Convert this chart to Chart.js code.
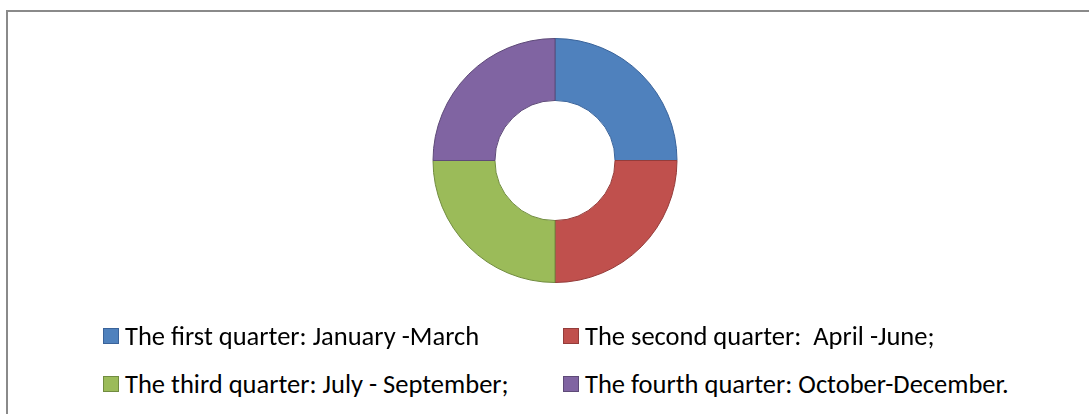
<!DOCTYPE html>
<html>
<head>
<meta charset="utf-8">
<script src="https://cdn.jsdelivr.net/npm/chart.js@4.4.0/dist/chart.umd.min.js"></script>
<style>
    html, body { margin: 0; padding: 0; background: #fff; overflow: hidden; }
    #marco {
        position: absolute; left: 6px; top: 10px; width: 1200px; height: 500px;
        border: 2px solid #8a8a8a; box-sizing: border-box;
    }
    #graficoContainer { position: absolute; left: 0; top: 0; width: 1089px; height: 321px; }
    .leyenda-item {
        position: absolute; height: 30px; line-height: 30px;
        font-family: "Carlito", "Liberation Sans", sans-serif; font-size: 26.5px;
        color: #000; white-space: pre;
    }
    .leyenda-caja {
        position: absolute; left: 0; top: 7px; width: 16px; height: 16px;
        box-sizing: border-box; border: 1px solid;
    }
    .leyenda-texto { position: absolute; left: 22px; top: 0; }
</style>
</head>
<body>
<div id="marco"></div>
<div id="graficoContainer"><canvas id="graficoTrimestres"></canvas></div>
<div id="leyenda"></div>
<script>
// Datos de los trimestres
const trimestres = [
    { etiqueta: 'The first quarter: January -March', valor: 25, color: '#4F81BD', borde: '#3A639A' },
    { etiqueta: 'The second quarter:  April -June;', valor: 25, color: '#C0504D', borde: '#943C3A' },
    { etiqueta: 'The third quarter: July - September;', valor: 25, color: '#9BBB59', borde: '#718C40' },
    { etiqueta: 'The fourth quarter: October-December.', valor: 25, color: '#8064A2', borde: '#5E4A78' }
];

// Posiciones de la leyenda (2 columnas x 2 filas)
const posicionesLeyenda = [
    { x: 103, y: 321 },
    { x: 563, y: 321 },
    { x: 103, y: 369 },
    { x: 563, y: 369 }
];

function crearGrafico() {
    const canvas = document.getElementById('graficoTrimestres');
    const chart = new Chart(canvas, {
        type: 'doughnut',
        data: {
            labels: trimestres.map(t => t.etiqueta),
            datasets: [{
                data: trimestres.map(t => t.valor),
                backgroundColor: trimestres.map(t => t.color),
                borderColor: trimestres.map(t => t.borde),
                borderWidth: 1,
                radius: 122
            }]
        },
        options: {
            responsive: true,
            maintainAspectRatio: false,
            animation: false,
            cutout: '49.2%',
            layout: { padding: { left: 21 } },
            plugins: {
                legend: { display: false },
                tooltip: { enabled: false }
            }
        }
    });
    return chart;
}

// Leyenda en HTML a partir de los datos del gráfico
function crearLeyenda(chart) {
    const contenedor = document.getElementById('leyenda');
    const items = chart.options.plugins.legend.labels.generateLabels(chart);
    items.forEach((item, i) => {
        const pos = posicionesLeyenda[i];
        const div = document.createElement('div');
        div.className = 'leyenda-item';
        div.style.left = pos.x + 'px';
        div.style.top = pos.y + 'px';
        div.innerHTML = `<span class="leyenda-caja" style="background:${item.fillStyle};border-color:${item.strokeStyle}"></span><span class="leyenda-texto">${item.text}</span>`;
        contenedor.appendChild(div);
    });
}

document.addEventListener('DOMContentLoaded', () => {
    const chart = crearGrafico();
    crearLeyenda(chart);
});
</script>
</body>
</html>
